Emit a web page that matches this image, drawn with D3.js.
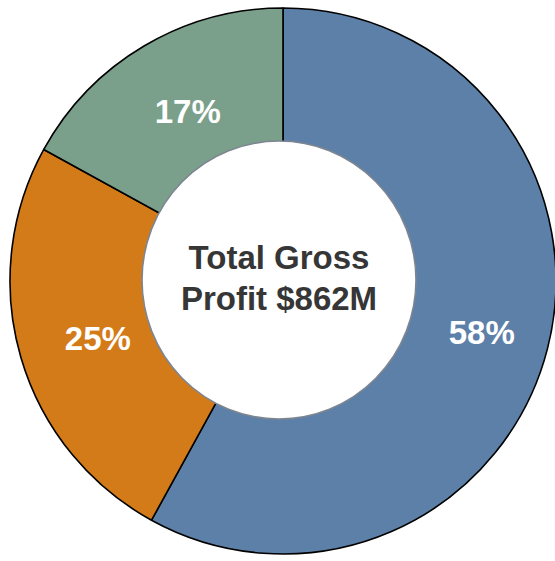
<!DOCTYPE html>
<html>
<head>
<meta charset="utf-8">
<script src="https://cdn.jsdelivr.net/npm/d3@7"></script>
<style>
  html, body { margin: 0; padding: 0; background: #ffffff; }
  svg { display: block; }
</style>
</head>
<body>
<svg id="chart" width="555" height="561"></svg>
<script>
// Share of total gross profit, in percent, clockwise from 12 o'clock
const shares = [58, 25, 17];
const shareColors = ["#5d80a9", "#d47b19", "#7aa08b"];
const centerLines = ["Total Gross", "Profit $862M"];

const width = 555, height = 561;
const cx = 283, cy = 281;
const outerR = 273;
const holeCx = 279, holeCy = 280, holeRx = 137, holeRy = 139;
const labelR = 199;

const svg = d3.select("#chart");
const g = svg.append("g").attr("transform", `translate(${cx},${cy})`);

const pie = d3.pie().sort(null).value(d => d).startAngle(0).endAngle(2 * Math.PI);
const wedge = d3.arc().innerRadius(0).outerRadius(outerR);
const labelArc = d3.arc().innerRadius(labelR).outerRadius(labelR);

const arcs = pie(shares);

g.selectAll("path.slice")
  .data(arcs)
  .join("path")
  .attr("class", "slice")
  .attr("d", wedge)
  .attr("fill", (d, i) => shareColors[i])
  .attr("stroke", "#000")
  .attr("stroke-width", 1.6)
  .attr("stroke-linejoin", "round");

// White centre hole with a soft grey rim
svg.append("ellipse")
  .attr("cx", holeCx).attr("cy", holeCy)
  .attr("rx", holeRx).attr("ry", holeRy)
  .attr("fill", "#ffffff")
  .attr("stroke", "#7d8591")
  .attr("stroke-width", 1.6);

// Percentage labels on the ring
g.selectAll("text.pct")
  .data(arcs)
  .join("text")
  .attr("class", "pct")
  .attr("transform", d => {
    const [x, y] = labelArc.centroid(d);
    return `translate(${x + 6},${y + 2})`;
  })
  .attr("text-anchor", "middle")
  .attr("dominant-baseline", "central")
  .attr("font-family", "'Liberation Sans', Arial, sans-serif")
  .attr("font-weight", "bold")
  .attr("font-size", 33)
  .attr("fill", "#ffffff")
  .text(d => d.data + "%");

// Centre title
svg.append("text")
  .attr("x", holeCx)
  .attr("y", 269)
  .attr("text-anchor", "middle")
  .attr("font-family", "'Liberation Sans', Arial, sans-serif")
  .attr("font-weight", "bold")
  .attr("font-size", 33)
  .attr("fill", "#363636")
  .selectAll("tspan")
  .data(centerLines)
  .join("tspan")
  .attr("x", holeCx)
  .attr("dy", (d, i) => i === 0 ? 0 : 41)
  .text(d => d);
</script>
</body>
</html>
